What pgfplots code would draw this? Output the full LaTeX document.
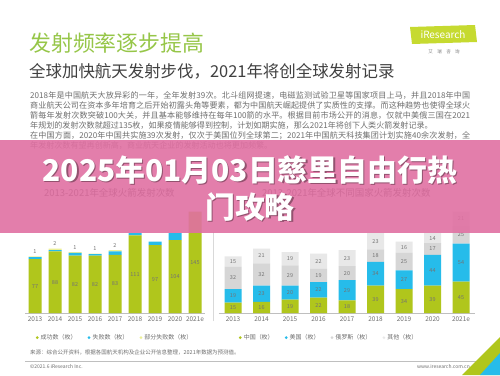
\documentclass[border=0pt]{standalone}
\usepackage{pgfplots}
\usepackage{pgfplotstable}
\pgfplotsset{compat=1.18}
\usepackage{fontspec}
\setmainfont{Noto Sans CJK SC}
\XeTeXlinebreaklocale "zh"
\XeTeXlinebreakskip=0pt plus 1pt
\definecolor{cgreen}{RGB}{176,198,28}
\definecolor{ccyan}{RGB}{38,188,234}
\definecolor{cpart}{RGB}{236,240,150}
\definecolor{crus}{RGB}{214,214,214}
\definecolor{coth}{RGB}{232,232,232}
\definecolor{cpink}{RGB}{224,112,162}
\definecolor{ctitle}{RGB}{150,198,72}
\definecolor{csub}{RGB}{64,64,64}
\definecolor{cbody}{RGB}{110,110,110}
\definecolor{cgray}{RGB}{110,110,110}
\definecolor{clogo}{RGB}{198,218,48}

% left chart: global launches
\pgfplotstableread{
x succ fail part
0 77 3 1
1 88 2 2
2 82 4 1
3 82 2 1
4 83 5 2
5 111 3 0
6 97 5 0
7 104 10 0
8 145 0 0
}\launchtab
\pgfplotstableread{
x y l
0 38.5 77
1 44 88
2 41 82
3 41 82
4 41.5 83
5 55.5 111
6 48.5 97
7 52 104
8 72.5 145
0 88 1
1 99 2
2 94 1
3 92 1
4 97 2
}\launchlbl
% right chart: by country
\pgfplotstableread{
x cn us ru ot
0 15 19 32 15
1 16 23 32 21
2 19 20 29 19
3 22 22 19 22
4 18 29 20 23
5 39 34 18 23
6 34 27 25 16
7 39 44 17 14
8 45 54 25 21
}\countrytab
\pgfplotstableread{
x y l
0 7.5 15
1 8 16
2 9.5 19
3 11 22
4 9 18
5 19.5 39
6 17 34
7 19.5 39
8 22.5 45
0 24.5 19
1 27.5 23
2 29 20
3 33 22
4 32.5 29
5 56 34
6 47.5 27
7 61 44
8 72 54
0 50 32
1 55 32
2 53.5 29
3 53.5 19
4 57 20
5 82 18
6 73.5 25
7 91.5 17
8 111.5 25
0 73.5 15
1 81.5 21
2 77.5 19
3 74 22
4 78.5 23
5 102.5 23
6 94 16
7 107 14
8 134.5 21
}\countrylbl

\pgfplotsset{
  barax/.style={
    scale only axis, height=112bp,
    ymin=0, ymax=160, xmin=-0.5, xmax=8.5,
    anchor=south west, clip=false,
    axis y line=none, axis x line=bottom,
    axis line style={-, draw=black!25},
    xtick={0,...,8},
    xticklabels={2013,2014,2015,2016,2017,2018,2019,2020,2021e},
    major tick length=0pt,
    /pgf/number format/assume math mode=true,
    xticklabel style={font=\fontsize{6.5}{7}\selectfont, text=cgray},
    ybar stacked,
    legend image code/.code={\path[##1,draw=none] (0.1cm,0cm) circle (1.5pt);},
    legend style={draw=none, fill=none, anchor=center,
      font=\fontsize{6}{7}\selectfont, text=cgray,
      /tikz/every even column/.append style={column sep=9bp}},
  },
  lblax/.style={
    scale only axis, height=112bp,
    ymin=0, ymax=160, xmin=-0.5, xmax=8.5,
    anchor=south west, clip=false, hide axis,
  },
  lblplot/.style={only marks, mark=*, mark size=0pt,
    nodes near coords, point meta=explicit symbolic,
    every node near coord/.append style={anchor=center,
      font=\fontsize{5.5}{6}\selectfont, text=black!55}},
}

\begin{document}
\begin{tikzpicture}
\begin{scope}[x=1bp,y=1bp]
\path[use as bounding box] (0,0) rectangle (500,375);
\fill[white] (0,0) rectangle (500,375);

% header
\node[anchor=west, inner sep=0, font=\fontsize{22}{22}\selectfont, text=ctitle] at (29,332) {发射频率逐步提高};
\node[anchor=west, inner sep=0, font=\fontsize{16.5}{17}\selectfont, text=csub] at (29,304) {全球加快航天发射步伐，2021年将创全球发射记录};
\fill[clogo] (412,331) -- (477,333) -- (475,350) -- (410,348) -- cycle;
\node[font=\fontsize{10}{10}\selectfont\itshape, text=white] at (443,340.5) {iResearch};
\node[font=\fontsize{4.5}{5}\selectfont, text=gray] at (444,323) {艾\quad 瑞\quad 咨\quad 询};

\node[anchor=north west, inner sep=0, text width=440bp, align=justify,
  font=\fontsize{8.1}{10.2}\selectfont, text=cbody] at (30,284) {2018年是中国航天大放异彩的一年，全年发射39次。北斗组网提速，电磁监测试验卫星等国家项目上马，并且2018年中国商业航天公司在资本多年培育之后开始初露头角等要素，都为中国航天崛起提供了实质性的支撑。而这种趋势也使得全球火箭每年发射次数突破100大关，并且基本能够维持在每年100箭的水平。根据目前市场公开的消息，仅就中美俄三国在2021年规划的发射次数就超过135枚，如果疫情能够得到控制，计划如期实施，那么2021年将创下人类火箭发射记录。\par 在中国方面，2020年中国共实施39次发射，仅次于美国位列全球第二；2021年中国航天科技集团计划实施40余次发射，全年发射次数有望再创新高，商业航天企业的发射活动也将更加频繁。};

% chart titles (under the band)
\node[anchor=west, inner sep=0, font=\fontsize{9.5}{10}\selectfont, text=csub] at (44,182) {2013-2021年全球火箭发射次数};
\node[anchor=west, inner sep=0, font=\fontsize{9.5}{10}\selectfont, text=csub] at (262,182) {2013-2021年全球不同国家火箭发射次数};
\end{scope}

% left chart
\begin{axis}[barax, at={(25bp,62bp)}, width=180bp, bar width=13bp,
  legend columns=3, legend style={at={(0.5,-0.22)}}]
\addplot[fill=cgreen, draw=none] table[x=x, y=succ] {\launchtab};
\addplot[fill=ccyan, draw=none] table[x=x, y=fail] {\launchtab};
\addplot[fill=cpart, draw=none] table[x=x, y=part] {\launchtab};
\legend{成功数（枚）, 失败数（枚）, 部分失败数（枚）}
\end{axis}
\begin{axis}[lblax, at={(25bp,62bp)}, width=180bp]
\addplot[lblplot] table[x=x, y=y, meta=l] {\launchlbl};
\end{axis}

% right chart
\begin{axis}[barax, at={(218.75bp,62bp)}, width=256.5bp, bar width=17bp,
  legend columns=4, legend style={at={(0.43,-0.22)}}]
\addplot[fill=cgreen, draw=none] table[x=x, y=cn] {\countrytab};
\addplot[fill=ccyan, draw=none] table[x=x, y=us] {\countrytab};
\addplot[fill=crus, draw=none] table[x=x, y=ru] {\countrytab};
\addplot[fill=coth, draw=none] table[x=x, y=ot] {\countrytab};
\legend{中国（枚）, 美国（枚）, 俄罗斯（枚）, 其他（枚）}
\end{axis}
\begin{axis}[lblax, at={(218.75bp,62bp)}, width=256.5bp]
\addplot[lblplot] table[x=x, y=y, meta=l] {\countrylbl};
\end{axis}

\begin{scope}[x=1bp,y=1bp]
\draw[black!15] (213,54) -- (213,143);

% footer
\node[anchor=west, inner sep=0, font=\fontsize{5.5}{6}\selectfont, text=cgray] at (30,23) {来源：综合公开资料，根据各国航天机构及企业公开信息整理，2021年数据为预测值。};
\draw[black!25] (25,14) -- (482,14);
\node[anchor=west, inner sep=0, font=\fontsize{5}{6}\selectfont, text=cgray] at (30,8) {©2021.6 iResearch Inc.};
\node[anchor=east, inner sep=0, font=\fontsize{5}{6}\selectfont, text=cgray] at (470,8) {www.iresearch.com.cn};
\fill[cgreen] (500,38) -- (500,0) -- (462,0) -- cycle;
\fill[ccyan] (500,22) -- (500,0) -- (480,0) -- cycle;

% overlay band
\fill[cpink, opacity=0.9] (0,142) rectangle (500,235);
\node[font=\fontsize{30}{30}\selectfont\bfseries, text=black, opacity=0.35] at (251.2,203.8) {2025年01月03日慈里自由行热};
\node[font=\fontsize{30}{30}\selectfont\bfseries, text=white] at (250,205) {2025年01月03日慈里自由行热};
\node[font=\fontsize{30}{30}\selectfont\bfseries, text=black, opacity=0.35] at (251.2,166.8) {门攻略};
\node[font=\fontsize{30}{30}\selectfont\bfseries, text=white] at (250,168) {门攻略};
\end{scope}
\end{tikzpicture}
\end{document}
